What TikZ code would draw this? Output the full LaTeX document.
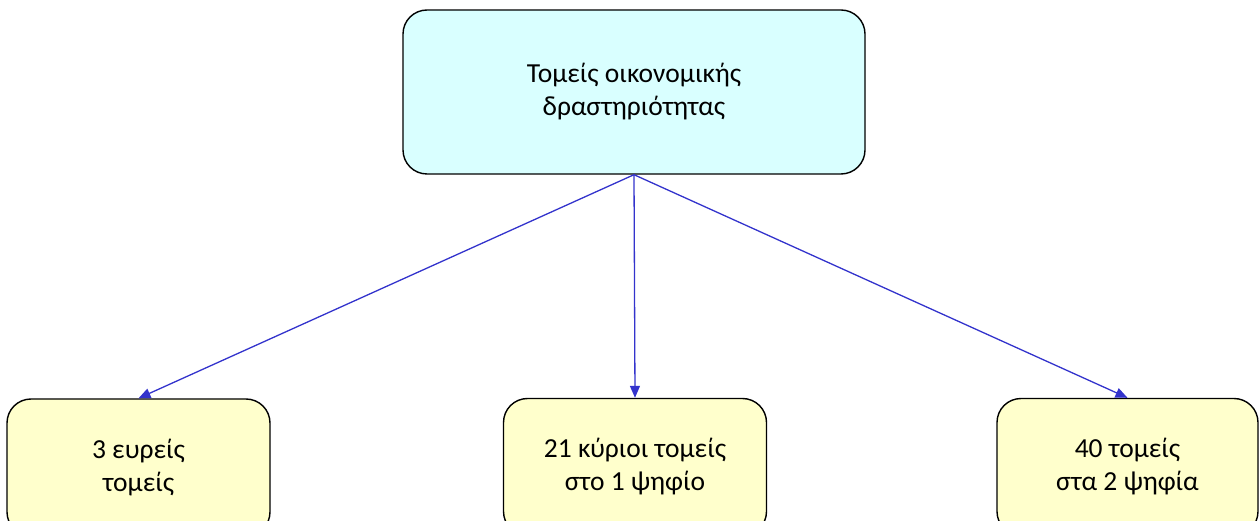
\documentclass[tikz,border=0pt]{standalone}
\usepackage{fontspec}
\setmainfont{Carlito}
\usetikzlibrary{arrows.meta}
\definecolor{topfill}{RGB}{217,255,255}
\definecolor{botfill}{RGB}{255,255,204}
\definecolor{arrowblue}{RGB}{51,51,204}
\tikzset{
  boxbase/.style={draw=black, line width=1.4pt, rounded corners=24pt, align=center,
    font=\fontsize{27.5}{33}\selectfont, inner sep=0pt},
  topbox/.style={boxbase, fill=topfill, minimum width=462pt, minimum height=164pt},
  botbox/.style={boxbase, fill=botfill, minimum width=263pt, minimum height=137pt},
  conn/.style={draw=arrowblue, line width=1.3pt, -{Triangle[length=12pt,width=10pt]}}
}
\begin{document}
\begin{tikzpicture}[x=1pt,y=-1pt]
\useasboundingbox (0,0) rectangle (1259,521);
\node[topbox] (top) at (634,92) {Τομείς οικονομικής\\δραστηριότητας};
\node[botbox] (b1) at (138.5,467.5) {3 ευρείς\\τομείς};
\node[botbox] (b2) at (635,467) {21 κύριοι τομείς\\στο 1 ψηφίο};
\node[botbox, minimum width=261pt] (b3) at (1127.5,467) {40 τομείς\\στα 2 ψηφία};
\draw[conn] (top.south) -- (b1.north);
\draw[conn] (top.south) -- (b2.north);
\draw[conn] (top.south) -- (b3.north);
\end{tikzpicture}
\end{document}
